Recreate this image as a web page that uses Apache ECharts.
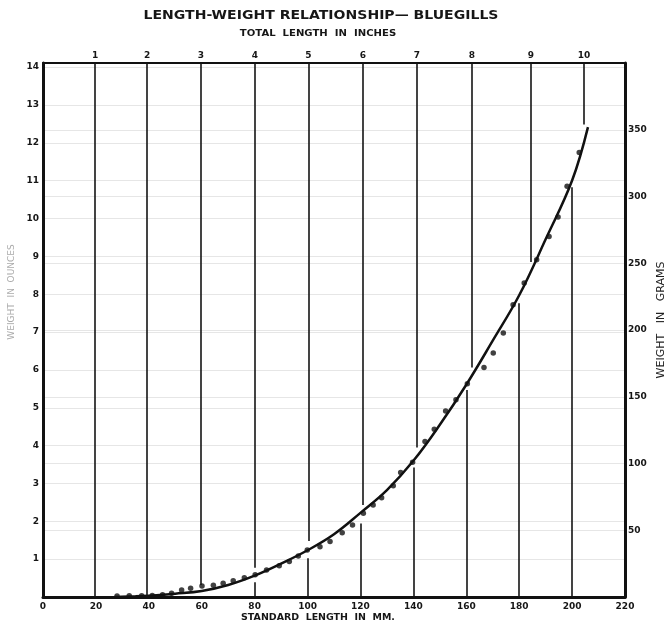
<!DOCTYPE html>
<html>
<head>
<meta charset="utf-8">
<script src="https://cdn.jsdelivr.net/npm/echarts@6/dist/echarts.min.js"></script>
<style>
  html, body { margin: 0; padding: 0; background: #ffffff; }
  #chart { width: 667px; height: 626px; }
</style>
</head>
<body>
<div id="chart"></div>
<script>
// ---- data (standard length in mm, weight in grams) ----
const curveMm = [27, 35, 40, 50, 60, 70, 80, 90, 100, 110, 120, 130, 140, 150, 160, 170, 180, 190, 200, 206];
const curveG  = [0, 0.5, 1, 2.5, 4.5, 9, 16, 25, 35, 47, 63, 80, 102, 129, 159, 192, 226, 268, 312, 352];

const dotMm = [28, 32.6, 37.3, 41.3, 45.2, 48.6, 52.4, 55.8, 60.1, 64.4, 68.1, 71.9, 76.1, 80.2, 84.5, 89.3, 93.1, 96.5, 99.9, 104.7, 108.5, 113.1, 117, 121.1, 124.8, 128, 132.4, 135.2, 139.7, 144.4, 147.9, 152.2, 156.1, 160.4, 166.7, 170.2, 174, 177.7, 181.9, 186.6, 191.3, 194.7, 198.1, 202.7];
const dotG  = [0.8, 0.9, 1, 1.2, 1.6, 2.8, 5.2, 6.5, 8.2, 8.8, 10.3, 12.2, 14.5, 16.7, 20.2, 23.5, 26.5, 30.7, 35.2, 37.7, 41.5, 48.2, 54, 62.7, 69, 74.4, 83.4, 93.2, 101, 116.4, 125.7, 139.4, 147.7, 159.7, 171.9, 182.7, 197.7, 218.9, 235.2, 252.6, 270, 284.6, 307.6, 333];

// total-length inch lines (position in mm standard length), drawn from top down to the curve
const inchLabels = ['1', '2', '3', '4', '5', '6', '7', '8', '9', '10'];
const inchMm   = [19.7, 39.4, 59.7, 80.1, 100.3, 120.9, 141.3, 162.1, 184.4, 204.5];
const inchEndG = [0, 0, 9, 22, 42, 69, 112, 172, 251, 354];

// standard-length mm lines, drawn from the bottom up to the curve
const mmTicks = [20, 40, 60, 80, 100, 120, 140, 160, 180, 200];
const mmTopG  = [0, 0, 0, 11, 29, 55, 97, 155, 220, 307];

const GRAM_MAX = 400;
const OZ_MAX = GRAM_MAX / 28.3495;

const segs = [];
inchMm.forEach((x, i) => segs.push([{ coord: [x, GRAM_MAX] }, { coord: [x, inchEndG[i]] }]));
mmTicks.forEach((x, i) => { if (mmTopG[i] > 0) segs.push([{ coord: [x, 0] }, { coord: [x, mmTopG[i]] }]); });

const FONT = 'DejaVu Sans';
const lab = { fontFamily: FONT, fontWeight: 'bold', fontSize: 9, color: '#161616' };
const frame = (w) => ({ show: true, onZero: false, lineStyle: { color: '#111', width: w } });

const chart = echarts.init(document.getElementById('chart'), null, { renderer: 'canvas' });
chart.setOption({
  backgroundColor: '#ffffff',
  animation: false,
  grid: { left: 43, right: 42, top: 63, bottom: 29, containLabel: false },
  xAxis: [
    { type: 'value', min: 0, max: 220, interval: 20, position: 'bottom',
      axisLine: frame(3), axisTick: { show: false }, splitLine: { show: false },
      axisLabel: Object.assign({ margin: 5 }, lab) },
    { type: 'value', min: 0, max: 220, position: 'top',
      axisLine: frame(2), axisTick: { show: false }, splitLine: { show: false },
      axisLabel: Object.assign({ margin: 3, customValues: inchMm,
        formatter: v => { const k = inchMm.indexOf(v); return k >= 0 ? inchLabels[k] : ''; } }, lab) }
  ],
  yAxis: [
    { type: 'value', min: 0, max: OZ_MAX, interval: 1, position: 'left',
      axisLine: frame(3), axisTick: { show: false },
      splitLine: { show: true, lineStyle: { color: '#e6e6e6', width: 1 } },
      axisLabel: Object.assign({ margin: 4, showMinLabel: false, showMaxLabel: false }, lab) },
    { type: 'value', min: 0, max: GRAM_MAX, interval: 50, position: 'right',
      axisLine: frame(3), axisTick: { show: false },
      splitLine: { show: true, lineStyle: { color: '#e6e6e6', width: 1 } },
      axisLabel: Object.assign({ margin: 3, showMinLabel: false, showMaxLabel: false }, lab) }
  ],
  series: [
    { type: 'line', xAxisIndex: 0, yAxisIndex: 1, smooth: 0.4, symbol: 'none',
      lineStyle: { color: '#111', width: 2.5 },
      data: curveMm.map((x, i) => [x, curveG[i]]), z: 3 },
    { type: 'scatter', xAxisIndex: 0, yAxisIndex: 1, symbol: 'circle', symbolSize: 5.5,
      itemStyle: { color: '#111' },
      data: dotMm.map((x, i) => [x, dotG[i]]), z: 4,
      markLine: { silent: true, symbol: ['none', 'none'], label: { show: false },
        lineStyle: { color: '#151515', width: 1.6, type: 'solid' }, emphasis: { disabled: true },
        data: segs } }
  ],
  graphic: [
    { type: 'text', x: 321, y: 16, scaleX: 1.08, style: { text: 'LENGTH-WEIGHT RELATIONSHIP— BLUEGILLS', fontFamily: FONT, fontWeight: 'bold', fontSize: 13, fill: '#161616', align: 'center', verticalAlign: 'middle' } },
    { type: 'text', x: 318, y: 34, scaleX: 1.12, style: { text: 'TOTAL  LENGTH  IN  INCHES', fontFamily: FONT, fontWeight: 'bold', fontSize: 9, fill: '#161616', align: 'center', verticalAlign: 'middle' } },
    { type: 'text', x: 318, y: 618, scaleX: 1.05, style: { text: 'STANDARD  LENGTH  IN  MM.', fontFamily: FONT, fontWeight: 'bold', fontSize: 9, fill: '#161616', align: 'center', verticalAlign: 'middle' } },
    { type: 'text', x: 661, y: 320, rotation: Math.PI / 2, style: { text: 'WEIGHT   IN   GRAMS', fontFamily: FONT, fontSize: 11, fill: '#222', align: 'center', verticalAlign: 'middle' } },
    { type: 'text', x: 12, y: 292, rotation: Math.PI / 2, style: { text: 'WEIGHT  IN  OUNCES', fontFamily: FONT, fontSize: 9, fill: '#aaaaaa', align: 'center', verticalAlign: 'middle' } }
  ]
});
</script>
</body>
</html>
